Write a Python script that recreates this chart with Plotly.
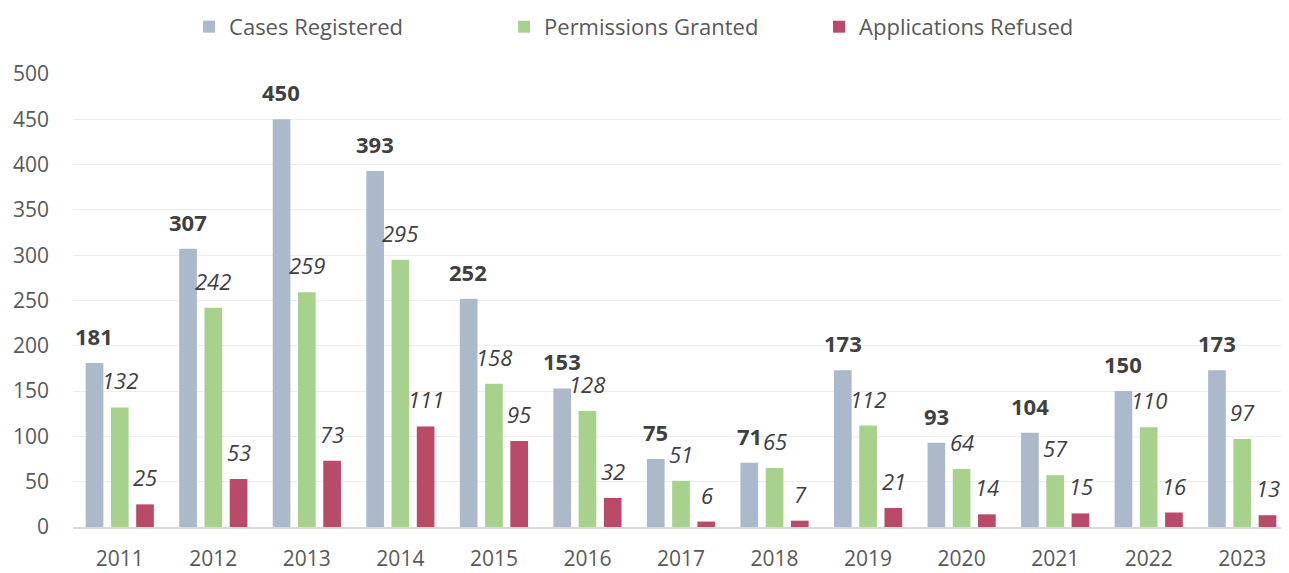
import plotly.graph_objects as go

years = ["2011", "2012", "2013", "2014", "2015", "2016", "2017", "2018", "2019", "2020", "2021", "2022", "2023"]
cases_registered = [181, 307, 450, 393, 252, 153, 75, 71, 173, 93, 104, 150, 173]
permissions_granted = [132, 242, 259, 295, 158, 128, 51, 65, 112, 64, 57, 110, 97]
applications_refused = [25, 53, 73, 111, 95, 32, 6, 7, 21, 14, 15, 16, 13]

font_family = "Open Sans, Segoe UI, sans-serif"

series = [
    ("Cases Registered", cases_registered, "#ACB9CA", "<b>{}</b>", -25.5),
    ("Permissions Granted", permissions_granted, "#A9D18E", "<i>{}</i>", 0),
    ("Applications Refused", applications_refused, "#B94A68", "<i>{}</i>", 25.5),
]

fig = go.Figure()
annotations = []
for name, vals, color, fmt, xs in series:
    fig.add_trace(go.Bar(name=name, x=years, y=vals, marker_color=color,
                         marker_line_width=0))
    for i, v in enumerate(vals):
        # category axes: annotation x is the category's serial index
        annotations.append(dict(
            x=i, y=v, xref="x", yref="y", text=fmt.format(v), showarrow=False,
            xshift=xs, yshift=10, yanchor="bottom", xanchor="center",
            font=dict(size=22, color="#404040", family=font_family),
        ))

fig.update_layout(
    width=1281, height=565,
    barmode="group", bargap=0.19, bargroupgap=0.3,
    plot_bgcolor="white", paper_bgcolor="white",
    margin=dict(l=65, r=0, t=66, b=46, autoexpand=False),
    font=dict(family=font_family, size=21, color="#595959"),
    legend=dict(orientation="h", x=0.484, xanchor="center", y=1.104, yanchor="middle",
                font=dict(size=22, color="#595959"), entrywidth=270,
                itemwidth=30, traceorder="normal"),
    annotations=annotations,
)
fig.update_yaxes(range=[0, 500], dtick=50, showgrid=True, gridcolor="#EDEDED",
                 zeroline=False, ticks="", tickfont=dict(size=21, color="#595959"),
                 ticklabelstandoff=23, automargin=False)
fig.update_xaxes(type="category", showline=True, linecolor="#D9D9D9", linewidth=2,
                 ticks="", tickfont=dict(size=21, color="#595959"),
                 ticklabelstandoff=12, automargin=False)

fig.write_html("out.html")
